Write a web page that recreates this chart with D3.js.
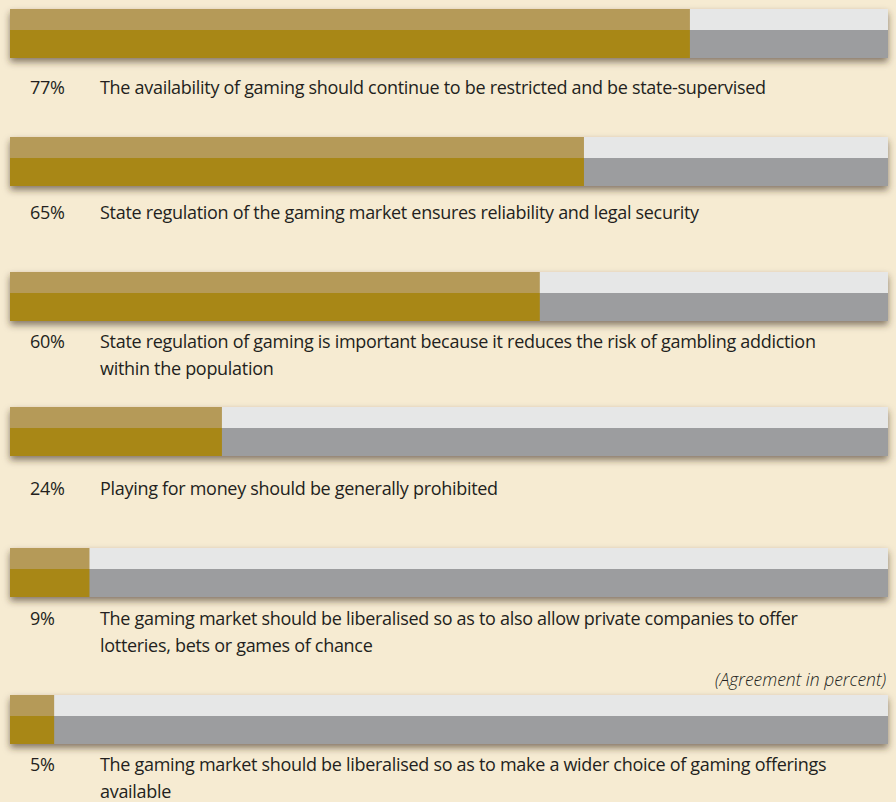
<!DOCTYPE html>
<html>
<head>
<meta charset="utf-8">
<script src="https://cdn.jsdelivr.net/npm/d3@7"></script>
<style>
  html, body { margin: 0; padding: 0; background: #f6ebd2; }
  svg { display: block; }
  text { font-family: "Open Sans", sans-serif; fill: #231f20; }
</style>
</head>
<body>
<svg width="896" height="802"></svg>
<script>
// survey answers, agreement in percent
const values = [77, 65, 60, 24, 9, 5];
const statements = [
  ["The availability of gaming should continue to be restricted and be state-supervised"],
  ["State regulation of the gaming market ensures reliability and legal security"],
  ["State regulation of gaming is important because it reduces the risk of gambling addiction", "within the population"],
  ["Playing for money should be generally prohibited"],
  ["The gaming market should be liberalised so as to also allow private companies to offer", "lotteries, bets or games of chance"],
  ["The gaming market should be liberalised so as to make a wider choice of gaming offerings", "available"]
];
const note = "(Agreement in percent)";

const svg = d3.select("svg");
const width = +svg.attr("width");
const height = +svg.attr("height");

const idx = d3.range(values.length);

// bar rows are not evenly spaced in the original
const yBar = d3.scaleOrdinal().domain(idx).range([9, 137, 272, 407, 548, 695]);
const yText = d3.scaleOrdinal().domain(idx).range([94, 219, 348, 495, 625, 771]);
const x = d3.scaleLinear().domain([0, 100]).range([10, 893]);

const trackW = 878;
const topH = 21, botH = 28;

const defs = svg.append("defs");
const f = defs.append("filter").attr("id", "shadow")
    .attr("x", "-5%").attr("y", "-40%").attr("width", "110%").attr("height", "190%");
f.append("feDropShadow")
    .attr("dx", 0).attr("dy", 4).attr("stdDeviation", 3.5)
    .attr("flood-color", "#3a2f1a").attr("flood-opacity", 0.6);

const rows = svg.selectAll("g.row")
    .data(idx)
    .enter().append("g")
    .attr("class", "row");

// grey track (rest up to 100%)
const bars = rows.append("g").attr("filter", "url(#shadow)");
bars.append("rect")
    .attr("x", x(0)).attr("y", i => yBar(i))
    .attr("width", trackW).attr("height", topH)
    .attr("fill", "#e6e7e7");
bars.append("rect")
    .attr("x", x(0)).attr("y", i => yBar(i) + topH)
    .attr("width", trackW).attr("height", botH)
    .attr("fill", "#9c9d9f");

// gold part
rows.append("rect")
    .attr("x", x(0)).attr("y", i => yBar(i))
    .attr("width", i => x(values[i]) - x(0)).attr("height", topH)
    .attr("fill", "#b59a58");
rows.append("rect")
    .attr("x", x(0)).attr("y", i => yBar(i) + topH)
    .attr("width", i => x(values[i]) - x(0)).attr("height", botH)
    .attr("fill", "#a88716");

rows.append("text")
    .attr("x", 30).attr("y", i => yText(i))
    .attr("font-size", 18)
    .attr("letter-spacing", -0.3)
    .text(i => values[i] + "%");

rows.each(function(i) {
  d3.select(this).append("text")
    .attr("x", 100).attr("y", yText(i))
    .attr("font-size", 18)
    .attr("letter-spacing", -0.3)
    .selectAll("tspan")
    .data(statements[i])
    .enter().append("tspan")
      .attr("x", 100)
      .attr("dy", (d, j) => j ? 26.5 : 0)
      .text(d => d);
});

svg.append("text")
    .attr("x", 886).attr("y", 686)
    .attr("text-anchor", "end")
    .attr("font-size", 17.5)
    .attr("font-style", "italic")
    .attr("font-weight", 300)
    .text(note);
</script>
</body>
</html>
